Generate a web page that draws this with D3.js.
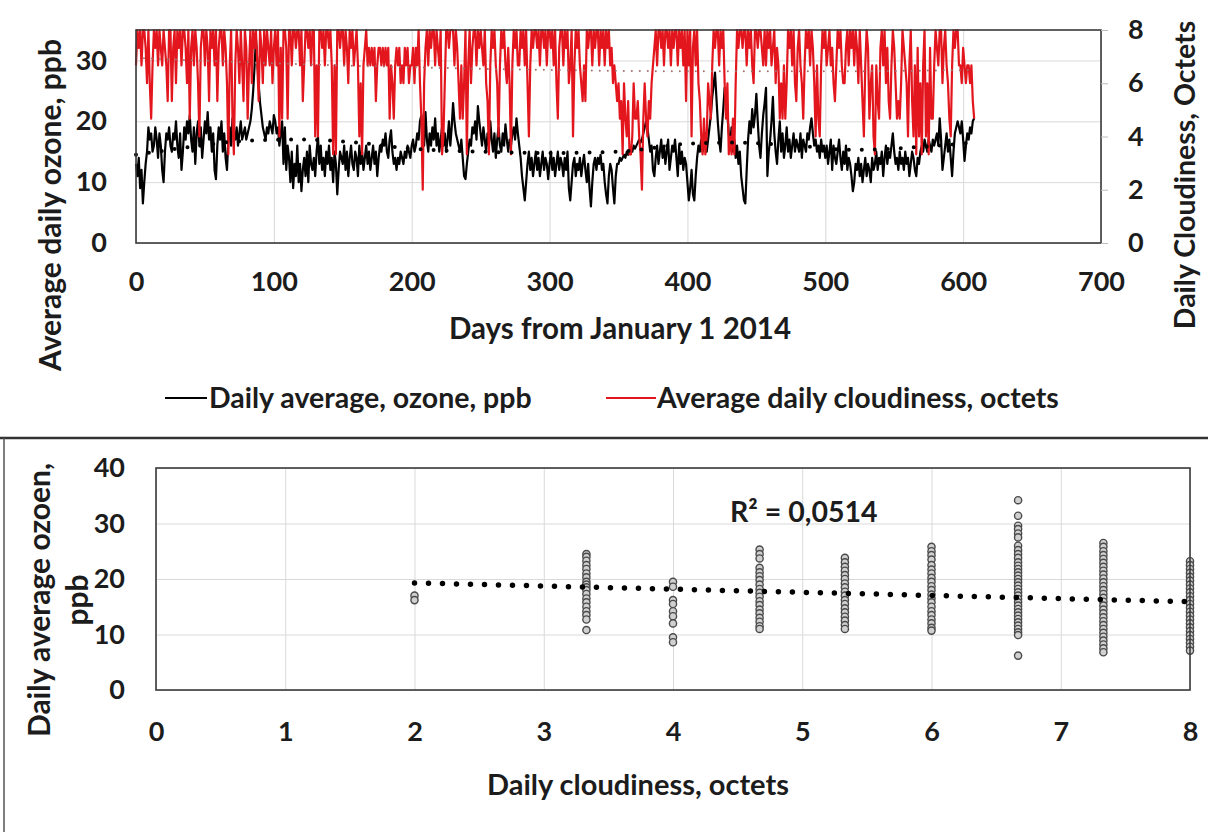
<!DOCTYPE html>
<html><head><meta charset="utf-8">
<script src="https://cdn.jsdelivr.net/npm/d3@7"></script>
<style>
body{margin:0;background:#fff;}
svg text{font-family:Lato,"Open Sans",sans-serif;font-weight:700;fill:#1c1c1c;}
</style></head><body>
<svg id="c" width="1208" height="832"></svg>
<script>
// ---- top chart: daily series (index = days from January 1 2014) ----
const ozone = [
13,11,14,9,12,6.5,10,13,15,19,
17,18,15,16,19,17,14,18,16,12,
10,15,18,17,19,16,15,18,17,20,
16,14,18,12,15,19,17,20,18,21,
17,15,19,13,18,20,16,19,14,17,
20,18,21.5,17,19,15,18,12,10.5,16,
19,17,20,15,18,14,12,17,19,16,
20.5,18,17,19,16,18,20,17,18,19,
17,18,19,20,22,25,29,33.5,30,26,
23,21,19,18,17,19,18,20,19,18,
21,20,18,19,16,18,20,13,19,12,
16,14,10,15,9,13,11,16,10,13,
8.5,12,14,11,15,10,16,13,12,14,
11,15,17.5,13,16,12,14,11,15,13,
16,12,14,10,15,13,8,12,15,14,
13,16,12,15,11,14,16,13,12,15,
14,11,16,13,15,12,14,16,13,15,
12,14,16,13,15,11,14,16,15,17,
16,18,15,14,17,18.5,15,13,14,12,
14,13,15,14,13,15,14,16,15,14,
16,17,15,16,18,17,20,21,18,16,
21.5,17,15,18,16,19,17,20.5,16,18,
15,17,19,16,18,15,17,20,16,19,
23,20,18,17,16,15,17,14,11,10.5,
13,15,17,16,19,18,20,17,22.5,20,
18,16,19,17,15,18,16,20,17,15,
18,14,17,19,16,15,18,16,19.5,17,
15,17,16,18,19,17,20.5,18,16,14,
11,9,7,10,13,15,12,14,11,13,
15,12,14,11,13,15,12,14,13,10.5,
13,15,12,14,11,13,15,12,14,13,
11,14,12,15,9,7,10,13,14,11,
13,12,14,11,13,14.5,12,10,13,9,
6,10,13,14,12,14,13,14.5,12,13,
10,8,6.5,11,13,12,9,6.5,11,13,
13,14,13.5,14,14.5,14,15,14.5,15,15.5,
15,16,15.5,16,16.5,17,16.5,17,18,19,
20,19,17,15,16,12,11,14,16,13,
15,17,14,16,13,15,17,12,14,16,
15,17,14,11,16,13,15,12,14,13,
10,7,9,12,8,7,11,14,16,15,
17,15,16,18,15,17,19,21,24,26,
28,24,20,17,15,19,22,25.5,24,21,
18,16,19,15,17,14,16,13,15,11,
9,7,6.5,12,17,20,18,22,19,21,
24.5,20,16,14,18,21,23,25.5,11,15,
17,20,24,18,15,13,17,20,15,18,
14,16,19,15,17,14,16,18,15,17,
16,15,18,14,17,16,15,18,17,19,
20.5,18,16,17,15,16,14,17,15,16,
14,16,13,15,17,12,16,14,13,15,
17,14,12,15,13,16,12,14,13,11,
8.5,10,13,12,14,11,13,10,12,14,
11,13,12,10,14,12,13,15,12,14,
13,15,11,14,16,13,15,14,16,18,
15,13,14,12,15,13,14,12,15,13,
14,11,13,15,14,12,11,14,13,15,
16,15,17,16,15,17,16,15,17,16,
17,18,16,20.5,17,12,14,16,18,15,
17,14,11,15,18,19,20,19,18,20,
17,13.5,16,18,17,19,18,20,20.5
];
const cloudiness = [
6.67,8,7.33,8,6.67,8,8,7.33,6,8,
6,4.67,6.67,8,7.33,8,6.67,8,7.33,6.67,
8,7.33,6.67,5.33,8,8,5.33,7.33,8,6,
8,7.33,8,6.67,8,8,7.33,6,8,4.67,
7.33,8,6.67,8,7.33,6,4,7.33,8,8,
6.67,8,7.33,5.33,8,7.33,8,6.67,8,5.33,
7.33,8,8,6.67,8,7.33,6,3.33,6.67,8,
4.67,3.33,6.67,8,7.33,6,8,6.67,5.33,8,
7.33,4.67,6.67,8,6,8,7.33,8,6.67,5.33,
8,7.33,6,8,6.67,8,7.33,6.67,8,6,
7.33,8,6.67,8,4,7.33,4.67,8,8,7.33,
4.67,8,8,6.67,8,8,7.33,8,8,6.67,
8,5.33,6.67,8,8,7.33,8,6.67,8,8,
4,6.67,4,8,8,7.33,8,6.67,8,8,
7.33,8,6.67,3.33,6.67,3.33,8,8,7.33,8,
8,6.67,8,7.33,6,8,7.33,8,6.67,7.33,
8,6.67,4,6,3.33,6.67,7.33,8,6.67,7.33,
6.67,7.33,6.67,7.33,5.33,6.67,7.33,7.33,6.67,7.33,
6.67,7.33,6.67,7.33,4.67,6.67,6,4.67,6.67,7.33,
6.67,7.33,6,6.67,6,7.33,6.67,7.33,6,6.67,
6.67,7.33,6,7.33,6.67,8,6,4.67,2,6,
7.33,8,6.67,8,7.33,8,8,6.67,8,7.33,
6.67,8,3.33,4,6,8,8,7.33,8,8,
8,6.67,8,7.33,6,4.67,6.67,4.67,6,8,
3.33,6.67,8,6,7.33,8,8,6.67,8,7.33,
8,7.33,6.67,8,6,5.33,3.33,6.67,8,7.33,
8,6.67,6,4,6.67,8,7.33,8,6.67,6,
7.33,6,3.33,6.67,8,7.33,8,6.67,6.67,8,
7.33,8,6.67,8,6,4,6.67,8,7.33,8,
8,7.33,8,6.67,8,8,7.33,8,6.67,8,
8,7.33,8,6.67,8,6,4.67,7.33,8,8,
6.67,8,7.33,8,6,6.67,8,4,6.67,8,
7.33,8,6.67,6,5.33,6.67,5.33,8,7.33,8,
8,6.67,8,7.33,8,8,6.67,8,7.33,8,
6.67,8,7.33,8,6.67,7.33,6,6.67,6,5.33,
6,4.67,5.33,3.33,6,4.67,4,5.33,3.33,3.33,
4,6,4.67,4.67,5.33,4,3.33,2,4.67,6,
4.67,4,5.33,4.67,6,6.67,7.33,8,6.67,8,
8,7.33,8,6.67,8,8,7.33,8,6.67,8,
7.33,8,8,6.67,8,7.33,8,6.67,8,5.33,
8,6.67,8,4,7.33,8,6.67,8,6,5.33,
4,3.33,4.67,3.33,4,6,5.33,4.67,6.67,8,
7.33,8,8,6.67,8,7.33,8,6,4.67,6,
3.33,4,3.33,4.67,3.33,6,8,7.33,8,8,
7.33,8,8,6.67,8,7.33,8,6.67,6,8,
8,7.33,8,8,7.33,6.67,8,6.67,8,7.33,
8,6.67,7.33,8,6,7.33,6.67,4.67,6,4.67,
6.67,4.67,6,8,7.33,8,6.67,8,6,5.33,
7.33,8,6.67,6,4.67,6.67,8,7.33,8,6.67,
8,7.33,6,4,6.67,4.67,4,6.67,8,7.33,
8,6.67,7.33,8,6.67,7.33,6,5.33,6.67,8,
7.33,8,6.67,6,6,7.33,8,6.67,8,7.33,
8,6.67,8,7.33,6,8,6.67,5.33,4,6.67,
8,7.33,4.67,6,6.67,4,3.33,6.67,5.33,4.67,
7.33,8,6.67,8,6,7.33,5.33,4.67,6.67,8,
7.33,6,4.67,5.33,4.67,6,8,7.33,6.67,6,
4,6.67,8,5.33,4,6.67,3.33,7.33,4,6,
3.33,6.67,8,4,6,3.33,7.33,4.67,4.67,6.67,
8,7.33,6.67,8,8,6,7.33,8,6.67,6,
4.67,4,6.67,8,7.33,8,8,6.67,6.67,6,
7.33,6.67,6,6.67,6.67,6,6.67,5.33,4.67
];
// trend lines
const ozoneTrendDays = [0,40,80,120,160,200,250,300,350,400,430,480,520,570,608];
const ozoneTrendVals = [14.5,15.8,16.8,17,16.5,15.5,15,14.8,15,16.3,16.5,16,15.3,15.8,16.5];
const cloudTrendDays = [0,100,200,300,400,500,608];
const cloudTrendVals = [6.95,6.75,6.6,6.5,6.45,6.45,6.5];
const dayTicks = [0,100,200,300,400,500,600,700];
const ozoneTicks = [0,10,20,30];
const cloudTicks = [0,2,4,6,8];

// ---- bottom chart: scatter ----
const scatterCloud = [2,3.33,4,4.67,5.33,6,6.67,7.33,8];
const scatterOzone = [
 [17,16.2],
 [24.5,24,23.3,22.5,21.8,21,20.3,19.5,19,18.5,18,17.3,16.5,15.8,15,14.2,13.5,12.7,10.8],
 [19.5,18.6,16.2,15.5,14.2,13.3,12,9.5,8.6],
 [25.3,24.5,23.7,22,21.2,20.5,19.8,19,18.2,17.5,16.8,16,15.3,14.5,13.8,13,12.3,11.5,11],
 [23.8,23,22.2,21.5,20.7,20,19.2,18.5,17.7,17,16.2,15.5,14.7,14,13.2,12.5,11.7,11],
 [25.8,25,24.3,23.5,22.5,21.7,21,20.2,19.5,18.7,18,17.2,16.5,15.8,15,14.2,13.5,12.7,12,11.2,10.7],
 [34.2,31.4,29.6,29,28.2,27.5,26,25.2,24.5,23.8,23,22.4,21.8,21.2,20.6,20,19.4,18.8,18.2,17.6,17,16.4,15.8,15.2,14.6,14,13.4,12.8,12.2,11.6,11,10.4,9.9,6.2],
 [26.5,25.8,25,24.3,23.6,22.9,22.2,21.5,20.8,20.1,19.4,18.7,18,17.3,16.6,15.9,15.2,14.5,13.8,13.1,12.4,11.7,11,10.3,9.6,8.9,8.2,7.5,6.8],
 [23.2,22.5,21.8,21.1,20.4,19.7,19,18.3,17.6,16.9,16.2,15.5,14.8,14.1,13.4,12.7,12,11.3,10.6,9.9,9.2,8.5,7.8,7.1]
];
const trendCloud = [2,8];
const trendOzone = [19.3,15.9];
const cloudAxisTicks = [0,1,2,3,4,5,6,7,8];
const ozoneAxisTicks = [0,10,20,30,40];

const svg = d3.select("#c");
svg.append("rect").attr("width",1208).attr("height",832).attr("fill","#fff");
const TK = 27;   // tick label size
const GRID = "#d9d9d9";

// ================= TOP =================
const T = {l:136, r:1101, t:30, b:243};
const x1 = d3.scaleLinear().domain([0,700]).range([T.l,T.r]);
const yL = d3.scaleLinear().domain([0,35]).range([T.b,T.t]);
const yR = d3.scaleLinear().domain([0,8]).range([T.b,T.t]);

const gTop = svg.append("g");
gTop.append("g").call(d3.axisBottom(x1).tickValues(dayTicks).tickSize(-(T.b-T.t)).tickFormat(""))
  .attr("transform",`translate(0,${T.b})`)
  .call(g=>{g.select(".domain").remove(); g.selectAll("line").attr("stroke",GRID);});
gTop.append("g").call(d3.axisLeft(yL).tickValues(ozoneTicks).tickSize(-(T.r-T.l)).tickFormat(""))
  .attr("transform",`translate(${T.l},0)`)
  .call(g=>{g.select(".domain").remove(); g.selectAll("line").attr("stroke",GRID);});

// series
const lineOz = d3.line().x((d,i)=>x1(i)).y(d=>yL(d));
const lineCl = d3.line().x((d,i)=>x1(i)).y(d=>yR(d));
gTop.append("path").datum(ozone).attr("d",lineOz).attr("fill","none").attr("stroke","#000").attr("stroke-width",2.2).attr("stroke-linejoin","round");
gTop.append("path").datum(cloudiness).attr("d",lineCl).attr("fill","none").attr("stroke","#e3161d").attr("stroke-width",2.2).attr("stroke-linejoin","round");

// trends
const tOz = d3.line().curve(d3.curveMonotoneX).x((d,i)=>x1(ozoneTrendDays[i])).y(d=>yL(d));
const tCl = d3.line().curve(d3.curveMonotoneX).x((d,i)=>x1(cloudTrendDays[i])).y(d=>yR(d));
gTop.append("path").datum(cloudTrendVals).attr("d",tCl).attr("fill","none").attr("stroke","#a07070").attr("stroke-width",2).attr("stroke-linecap","round").attr("stroke-dasharray","0 8");
gTop.append("path").datum(ozoneTrendVals).attr("d",tOz).attr("fill","none").attr("stroke","#000").attr("stroke-width",4).attr("stroke-linecap","round").attr("stroke-dasharray","0 13");

// frame
gTop.append("rect").attr("x",T.l).attr("y",T.t).attr("width",T.r-T.l).attr("height",T.b-T.t).attr("fill","none").attr("stroke","#3a3a3a").attr("stroke-width",1.6);

// axes
gTop.append("g").attr("transform",`translate(0,${T.b})`)
  .call(d3.axisBottom(x1).tickValues(dayTicks).tickSize(0).tickPadding(29))
  .call(g=>{g.select(".domain").remove(); g.selectAll("text").attr("font-size",TK);});
gTop.append("g").attr("transform",`translate(${T.l},0)`)
  .call(d3.axisLeft(yL).tickValues(ozoneTicks).tickSize(0).tickPadding(29))
  .call(g=>{g.select(".domain").remove(); g.selectAll("text").attr("font-size",TK);});
gTop.append("g").attr("transform",`translate(${T.r},0)`)
  .call(d3.axisRight(yR).tickValues(cloudTicks).tickSize(7).tickPadding(20))
  .call(g=>{g.select(".domain").remove(); g.selectAll("line").attr("stroke","#bdbdbd"); g.selectAll("text").attr("font-size",TK);});

// titles
gTop.append("text").attr("x",620).attr("y",339).attr("text-anchor","middle").attr("font-size",29.5).text("Days from January  1  2014");
gTop.append("text").attr("transform","translate(61,205) rotate(-90)").attr("text-anchor","middle").attr("font-size",30).text("Average daily ozone, ppb");
gTop.append("text").attr("transform","translate(1195,175) rotate(-90)").attr("text-anchor","middle").attr("font-size",28.5).text("Daily Cloudiness,  Octets");

// legend
gTop.append("line").attr("x1",165).attr("x2",207).attr("y1",398).attr("y2",398).attr("stroke","#000").attr("stroke-width",2.2);
gTop.append("text").attr("x",209).attr("y",408).attr("font-size",28.5).text("Daily average, ozone, ppb");
gTop.append("line").attr("x1",606).attr("x2",656).attr("y1",398).attr("y2",398).attr("stroke","#e3161d").attr("stroke-width",2.2);
gTop.append("text").attr("x",657).attr("y",408).attr("font-size",28.5).text("Average daily cloudiness, octets");

// separator and left border
svg.append("line").attr("x1",0).attr("x2",1208).attr("y1",438).attr("y2",438).attr("stroke","#333").attr("stroke-width",2.5);
svg.append("line").attr("x1",4).attr("x2",4).attr("y1",438).attr("y2",832).attr("stroke","#555").attr("stroke-width",1.5);

// ================= BOTTOM =================
const B = {l:156, r:1190, t:468, b:690};
const x2 = d3.scaleLinear().domain([0,8]).range([B.l,B.r]);
const y2 = d3.scaleLinear().domain([0,40]).range([B.b,B.t]);
const gBot = svg.append("g");
gBot.append("g").attr("transform",`translate(0,${B.b})`)
  .call(d3.axisBottom(x2).tickValues(cloudAxisTicks).tickSize(-(B.b-B.t)).tickFormat(""))
  .call(g=>{g.select(".domain").remove(); g.selectAll("line").attr("stroke",GRID);});
gBot.append("g").attr("transform",`translate(${B.l},0)`)
  .call(d3.axisLeft(y2).tickValues(ozoneAxisTicks).tickSize(-(B.r-B.l)).tickFormat(""))
  .call(g=>{g.select(".domain").remove(); g.selectAll("line").attr("stroke",GRID);});

const pts = [];
scatterCloud.forEach((c,i)=>scatterOzone[i].forEach(v=>pts.push([c,v])));
gBot.selectAll("circle").data(pts).join("circle")
  .attr("cx",d=>x2(d[0])).attr("cy",d=>y2(d[1])).attr("r",3.6)
  .attr("fill","#d0d0d0").attr("stroke","#4a4a4a").attr("stroke-width",1.4);

const tl = d3.line().x((d,i)=>x2(trendCloud[i])).y(d=>y2(d));
gBot.append("path").datum(trendOzone).attr("d",tl).attr("fill","none").attr("stroke","#000").attr("stroke-width",5.5).attr("stroke-linecap","round").attr("stroke-dasharray","0 14");

gBot.append("rect").attr("x",B.l).attr("y",B.t).attr("width",B.r-B.l).attr("height",B.b-B.t).attr("fill","none").attr("stroke","#3a3a3a").attr("stroke-width",1.6);

gBot.append("g").attr("transform",`translate(0,${B.b})`)
  .call(d3.axisBottom(x2).tickValues(cloudAxisTicks).tickSize(0).tickPadding(32))
  .call(g=>{g.select(".domain").remove(); g.selectAll("text").attr("font-size",TK);});
gBot.append("g").attr("transform",`translate(${B.l},0)`)
  .call(d3.axisLeft(y2).tickValues(ozoneAxisTicks).tickSize(0).tickPadding(31))
  .call(g=>{g.select(".domain").remove(); g.selectAll("text").attr("font-size",TK);});

gBot.append("text").attr("x",638).attr("y",795).attr("text-anchor","middle").attr("font-size",29).text("Daily cloudiness, octets");
gBot.append("text").attr("x",730).attr("y",522).attr("font-size",28.5).text("R² = 0,0514");
const yt = gBot.append("text").attr("transform","rotate(-90)").attr("text-anchor","middle").attr("font-size",30);
yt.append("tspan").attr("x",-600).attr("y",50).text("Daily average ozoen,");
yt.append("tspan").attr("x",-600).attr("y",88).text("ppb");
</script></body></html>
